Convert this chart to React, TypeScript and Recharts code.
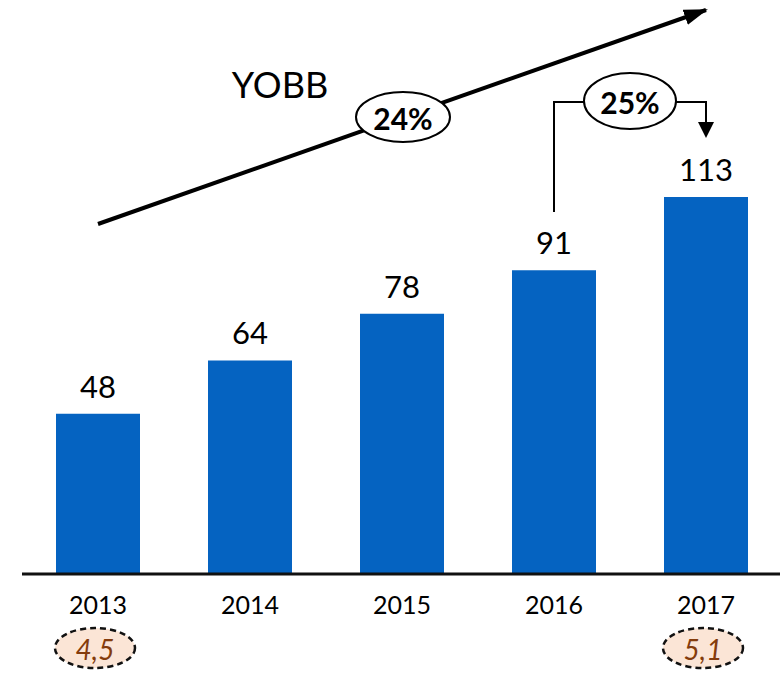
import { BarChart, Bar, XAxis, YAxis, LabelList, Customized } from "recharts";

const years = ["2013", "2014", "2015", "2016", "2017"];
const revenue = [48, 64, 78, 91, 113];
const notes = ["4,5", "", "", "", "5,1"];
const trendLabel = "24%";
const lastGrowthLabel = "25%";
const title = "YOBB";

const data = years.map((year, i) => ({ year, value: revenue[i], note: notes[i] }));

const FONT = "Lato, 'Open Sans', sans-serif";
const W = 782;
const H = 674;
const LEFT = 22;
const AXIS_H = 100;
const BAND = (W - LEFT) / years.length;
const cx = (i: number) => LEFT + BAND * (i + 0.5);

function YearTick(props: any) {
  const { x, y, payload, index } = props;
  const note = notes[index];
  return (
    <g>
      <text x={x} y={y + 22} textAnchor="middle" dominantBaseline="central" fontSize={25} fontFamily={FONT} fill="#000">
        {payload.value}
      </text>
      {note && (
        <g>
          <ellipse cx={x - 3} cy={y + 66} rx={40} ry={20} fill="#FBE5D6" stroke="#111" strokeWidth={2.5} strokeDasharray="6 4" />
          <text x={x - 3} y={y + 67} textAnchor="middle" dominantBaseline="central" fontSize={28} fontStyle="italic" fontFamily={FONT} fill="#843C0C">
            {note}
          </text>
        </g>
      )}
    </g>
  );
}

function Annotations() {
  const x0 = cx(0);
  const x2 = cx(2);
  const x3 = cx(3);
  const x4 = cx(4);
  return (
    <g>
      <defs>
        <marker id="trendHead" markerUnits="userSpaceOnUse" markerWidth={24} markerHeight={16} refX={22} refY={8} orient="auto">
          <path d="M0,0 L24,8 L0,16 Z" fill="#000" />
        </marker>
      </defs>
      <line x1={x0} y1={224} x2={x4} y2={10} stroke="#000" strokeWidth={4} markerEnd="url(#trendHead)" />
      <text x={280} y={84} textAnchor="middle" dominantBaseline="central" fontSize={36} fontFamily={FONT} fill="#000">
        {title}
      </text>
      <ellipse cx={x2 + 1} cy={117} rx={47} ry={25} fill="#fff" stroke="#000" strokeWidth={2} />
      <text x={x2 + 1} y={118} textAnchor="middle" dominantBaseline="central" fontSize={30} fontWeight="bold" fontFamily={FONT} fill="#000">
        {trendLabel}
      </text>
      <polyline points={`${x3},212 ${x3},102 ${x3 + 30},102`} fill="none" stroke="#000" strokeWidth={2} />
      <polyline points={`${x3 + 122},102 ${x4},102 ${x4},124`} fill="none" stroke="#000" strokeWidth={2} />
      <path d={`M${x4 - 8},122 L${x4 + 8},122 L${x4},138 Z`} fill="#000" />
      <ellipse cx={(x3 + x4) / 2} cy={101} rx={46} ry={28} fill="#fff" stroke="#000" strokeWidth={2} />
      <text x={(x3 + x4) / 2} y={102} textAnchor="middle" dominantBaseline="central" fontSize={30} fontWeight="bold" fontFamily={FONT} fill="#000">
        {lastGrowthLabel}
      </text>
    </g>
  );
}

export default function App() {
  return (
    <div style={{ position: "absolute", left: 0, top: 0, width: 780, height: H, overflow: "hidden", background: "#fff" }}>
      <BarChart width={W} height={H} data={data} margin={{ top: 0, right: 0, left: LEFT, bottom: 0 }} barSize={84}>
        <XAxis
          dataKey="year"
          axisLine={{ stroke: "#111", strokeWidth: 3 }}
          tickLine={false}
          tick={<YearTick />}
          interval={0}
          height={AXIS_H}
        />
        <YAxis hide domain={[0, 172]} />
        <Bar dataKey="value" fill="#0563C1" isAnimationActive={false}>
          <LabelList dataKey="value" position="top" offset={16} fontSize={31} fontFamily={FONT} fill="#000" />
        </Bar>
        <Customized component={Annotations} />
      </BarChart>
    </div>
  );
}
